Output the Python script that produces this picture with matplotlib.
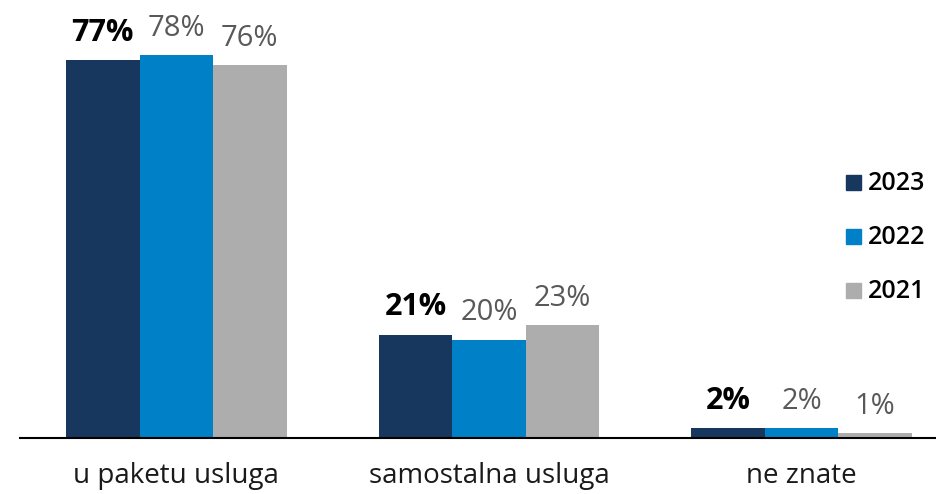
import numpy as np
import matplotlib.pyplot as plt
import matplotlib.patches as mpatches

categories = ["u paketu usluga", "samostalna usluga", "ne znate"]
years = ["2023", "2022", "2021"]
v2023 = [77, 21, 2]
v2022 = [78, 20, 2]
v2021 = [76, 23, 1]
colors = ["#17375E", "#0080C6", "#ADADAD"]

plt.rcParams['font.family'] = ['Open Sans', 'DejaVu Sans']

fig = plt.figure(figsize=(9.36, 4.94), dpi=100)
ax = fig.add_axes([20 / 936, 56 / 494, 1 - 20 / 936, 438 / 494])

x = np.arange(len(categories))
w = 0.235
series = [v2023, v2022, v2021]
for i, vals in enumerate(series):
    pos = x + (i - 1) * w
    ax.bar(pos, vals, width=w, color=colors[i], zorder=2)
    for p, v in zip(pos, vals):
        if i == 0:
            ax.annotate(f"{v}%", (p, v), xytext=(0, 9), textcoords="offset points",
                        ha="center", va="bottom", fontsize=22, fontweight="bold", color="black")
        else:
            ax.annotate(f"{v}%", (p, v), xytext=(0, 9), textcoords="offset points",
                        ha="center", va="bottom", fontsize=21, color="#595959")

ax.set_xlim(-0.5, 2.43)
ax.set_ylim(0, 89.3)
ax.set_yticks([])
ax.set_xticks(x)
ax.set_xticklabels(categories, fontsize=20, color="#1a1a1a")
ax.tick_params(axis="x", length=0, pad=17)
for s in ["top", "right", "left"]:
    ax.spines[s].set_visible(False)
ax.spines["bottom"].set_linewidth(1.5)
ax.spines["bottom"].set_color("black")

# legend
ly = [183, 237, 291]
for i, yr in enumerate(years):
    fig.patches.append(mpatches.Rectangle((846 / 936, (494 - ly[i] - 7) / 494), 15 / 936, 15 / 494,
                                          transform=fig.transFigure, color=colors[i], figure=fig))
    fig.text(868 / 936, (494 - ly[i]) / 494, yr, fontsize=18, fontweight="semibold",
             va="center", ha="left", color="black")

fig.savefig("out.png", dpi=100)
